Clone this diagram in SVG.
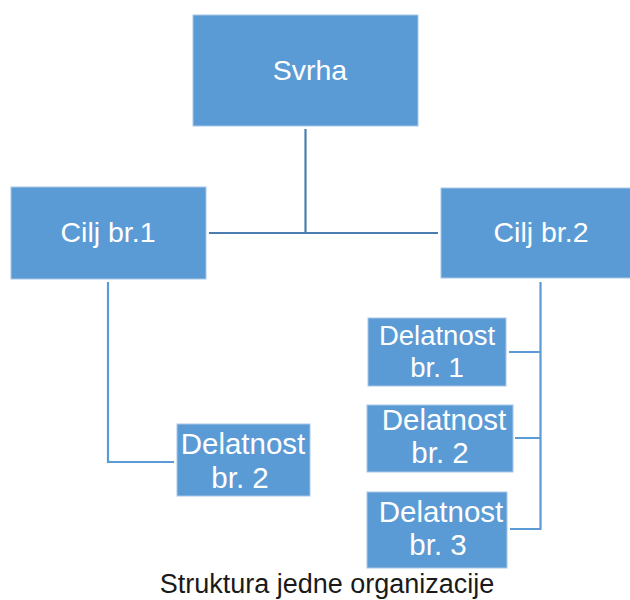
<svg xmlns="http://www.w3.org/2000/svg" width="630" height="600" viewBox="0 0 630 600">
<style>
.box{fill:#5B9BD5;stroke:#A9C8E8;stroke-width:1}
.t{font-family:"Liberation Sans",Arial,sans-serif;fill:#FFFFFF;text-anchor:middle}
.c{fill:none;stroke-width:2.2}
.c1{stroke:#4A7EB0}
.c2{stroke:#5B9BD5}
</style>
<rect width="630" height="600" fill="#FFFFFF"/>
<g id="connectors">
<path class="c c1" d="M305.5 129 V233 M209 233 H438"/>
<path class="c c2" d="M108 282 V462 H174"/>
<path class="c c2" d="M540.5 282 V529 H510 M540.5 352 H509 M540.5 438 H515"/>
</g>
<g id="svrha">
<rect class="box" x="193" y="15" width="225" height="111"/>
<text class="t" x="310" y="80" font-size="28.5">Svrha</text>
</g>
<g id="cilj1">
<rect class="box" x="11" y="187" width="195" height="92"/>
<text class="t" x="108" y="242" font-size="28.5">Cilj br.1</text>
</g>
<g id="cilj2">
<rect class="box" x="441" y="188" width="190" height="90"/>
<text class="t" x="541" y="242" font-size="28.5">Cilj br.2</text>
</g>
<g id="delatnost-l2">
<rect class="box" x="177" y="424" width="133" height="72"/>
<text class="t" font-size="29.5"><tspan x="243" y="454">Delatnost</tspan><tspan x="240" y="488">br. 2</tspan></text>
</g>
<g id="delatnost-r1">
<rect class="box" x="368" y="318" width="138" height="68"/>
<text class="t" font-size="27.5"><tspan x="437" y="345">Delatnost</tspan><tspan x="437" y="377">br. 1</tspan></text>
</g>
<g id="delatnost-r2">
<rect class="box" x="367" y="405" width="146" height="67"/>
<text class="t" font-size="29.5"><tspan x="444" y="430">Delatnost</tspan><tspan x="440" y="463">br. 2</tspan></text>
</g>
<g id="delatnost-r3">
<rect class="box" x="367" y="492" width="140" height="76"/>
<text class="t" font-size="29.5"><tspan x="441" y="522">Delatnost</tspan><tspan x="438" y="555">br. 3</tspan></text>
</g>
<text x="327" y="593" font-family="&quot;Liberation Sans&quot;,Arial,sans-serif" font-size="27" fill="#1A1A1A" text-anchor="middle">Struktura jedne organizacije</text>
</svg>
